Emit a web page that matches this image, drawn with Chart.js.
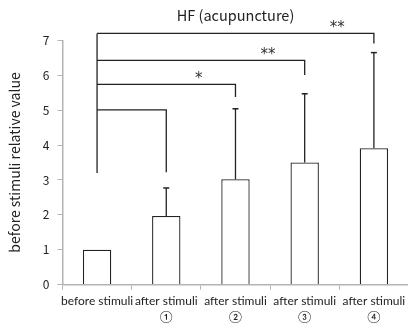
<!DOCTYPE html>
<html>
<head>
<meta charset="utf-8">
<script src="https://cdn.jsdelivr.net/npm/chart.js@4.4.1/dist/chart.umd.min.js"></script>
<style>
    html, body { margin: 0; padding: 0; background: #fff; }
    #wrap { width: 408px; height: 329px; overflow: hidden; }
    #box { width: 414px; height: 329px; }
</style>
</head>
<body>
<div id="wrap"><div id="box"><canvas id="hfChart"></canvas></div></div>
<script>
// Categories and group means (relative to the before-stimuli value)
var categories = [
    ['before stimuli'],
    ['after stimuli', '①'],
    ['after stimuli', '②'],
    ['after stimuli', '③'],
    ['after stimuli', '④']
];
var meanValues = [1.0, 1.97, 3.02, 3.5, 3.91];
var sdValues = [0, 0.8, 2.02, 1.97, 2.74];

// y ticks 0..7
var yMin = 0;
var yMax = 7;
var yStep = 1;

// Significance brackets, all starting at the first group
var bracketBase = 3.2;
var bracketEnds = [1, 2, 3, 4];
var bracketTops = [5.01, 5.74, 6.43, 7.2];
var bracketDrops = [3.22, 5.38, 6.01, 6.91];
var sigMarks = ['', '*', '**', '**'];

var ink = '#222222';
var axisGray = '#b4b4b4';
var fontFamily = '"Noto Sans CJK JP", Lato, sans-serif';

function lineSet(points, extra) {
    var ds = {
        type: 'line',
        xAxisID: 'xl',
        yAxisID: 'y',
        data: points,
        borderColor: ink,
        borderWidth: 1.3,
        pointRadius: 0,
        fill: false,
        tension: 0,
        clip: false
    };
    return Object.assign(ds, extra || {});
}

var datasets = [{
    type: 'bar',
    xAxisID: 'x',
    yAxisID: 'y',
    data: meanValues,
    backgroundColor: '#ffffff',
    borderColor: ink,
    borderWidth: 1.3,
    barPercentage: 0.41,
    categoryPercentage: 1.0,
    grouped: false,
    order: 2
}];

// Upper error bars with a short cap
meanValues.forEach(function(m, i) {
    if (sdValues[i] > 0) {
        datasets.push(lineSet([{ x: i, y: m }, { x: i, y: m + sdValues[i] }], {
            pointRadius: [0, 3],
            pointStyle: 'line',
            pointBorderColor: ink,
            pointBorderWidth: 1.5,
            order: 1
        }));
    }
});

// Shared left leg, then one bracket per comparison
datasets.push(lineSet([{ x: 0, y: bracketBase }, { x: 0, y: Math.max.apply(null, bracketTops) }], { order: 0 }));
bracketEnds.forEach(function(end, i) {
    datasets.push(lineSet([
        { x: 0, y: bracketTops[i] },
        { x: end, y: bracketTops[i] },
        { x: end, y: bracketDrops[i] }
    ], { order: 0 }));
});

var sigPlugin = {
    id: 'sigMarks',
    afterDatasetsDraw: function(chart) {
        var ctx = chart.ctx;
        var xs = chart.scales.xl;
        var ys = chart.scales.y;
        ctx.save();
        ctx.fillStyle = '#333333';
        ctx.font = '15px "DejaVu Sans"';
        ctx.textAlign = 'center';
        ctx.textBaseline = 'middle';
        sigMarks.forEach(function(mark, i) {
            if (!mark) return;
            var x = xs.getPixelForValue(bracketEnds[i] - 0.53);
            var y = ys.getPixelForValue(bracketTops[i]) - 5;
            ctx.fillText(mark, x, y);
        });
        ctx.restore();
    }
};

var ctx = document.getElementById('hfChart').getContext('2d');
var hfChart = new Chart(ctx, {
    data: {
        labels: categories,
        datasets: datasets
    },
    options: {
        responsive: true,
        maintainAspectRatio: false,
        animation: false,
        layout: {
            padding: { left: 2, right: 0, top: 0, bottom: 1 }
        },
        plugins: {
            legend: { display: false },
            tooltip: { enabled: false },
            title: {
                display: true,
                text: 'HF (acupuncture)',
                fullSize: false,
                color: ink,
                font: { family: fontFamily, size: 14.5, weight: 'normal', lineHeight: 1.2 },
                padding: { top: 7, bottom: 16 }
            }
        },
        scales: {
            x: {
                type: 'category',
                offset: true,
                grid: {
                    offset: true,
                    drawOnChartArea: false,
                    drawTicks: true,
                    tickLength: 5,
                    color: axisGray
                },
                border: { color: axisGray, width: 1.5 },
                ticks: {
                    color: ink,
                    font: { family: 'Lato, "Noto Sans CJK JP"', size: 12, lineHeight: 1.35 },
                    padding: 3,
                    maxRotation: 0,
                    autoSkip: false
                }
            },
            xl: {
                type: 'linear',
                display: false,
                min: -0.5,
                max: 4.5
            },
            y: {
                min: yMin,
                max: yMax,
                grid: {
                    drawOnChartArea: false,
                    drawTicks: true,
                    tickLength: 5,
                    color: axisGray
                },
                border: { color: axisGray, width: 1.5 },
                ticks: {
                    stepSize: yStep,
                    color: ink,
                    font: { family: fontFamily, size: 12, lineHeight: 1.2 },
                    padding: 8
                },
                title: {
                    display: true,
                    text: 'before stimuli relative value',
                    color: ink,
                    font: { family: fontFamily, size: 14, lineHeight: 1.2 },
                    padding: { top: 4, bottom: 12 }
                }
            }
        }
    },
    plugins: [sigPlugin]
});
</script>
</body>
</html>
